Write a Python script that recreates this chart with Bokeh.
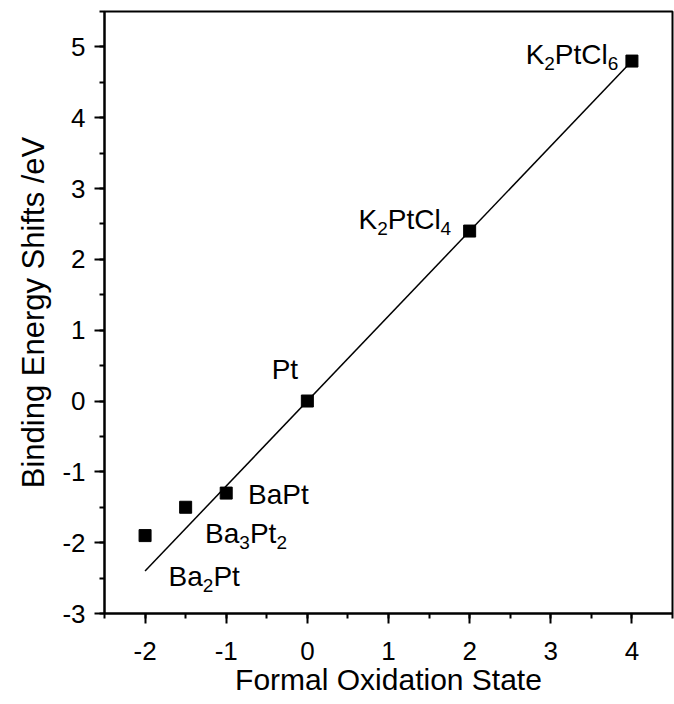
from bokeh.plotting import figure
from bokeh.models import (ColumnDataSource, SingleIntervalTicker, Range1d,
                          CustomJSTickFormatter)
from bokeh.core.properties import value
from bokeh.embed import file_html
from bokeh.resources import INLINE

# ---- data ----
ox_state = [-2.0, -1.5, -1.0, 0.0, 2.0, 4.0]
be_shift = [-1.9, -1.5, -1.3, 0.0, 2.4, 4.8]

fit_x = [-2.0, 4.0]
fit_y = [-2.4, 4.8]

# compound labels: pieces of (text, is_subscript)
label_pieces = [
    [("K", 0), ("2", 1), ("PtCl", 0), ("6", 1)],
    [("K", 0), ("2", 1), ("PtCl", 0), ("4", 1)],
    [("Pt", 0)],
    [("BaPt", 0)],
    [("Ba", 0), ("3", 1), ("Pt", 0), ("2", 1)],
    [("Ba", 0), ("2", 1), ("Pt", 0)],
]
label_x = [2.69, 0.63, -0.44, -0.73, -1.26, -1.71]
label_y = [4.76, 2.44, 0.32, -1.45, -2.00, -2.60]

x_title = "Formal Oxidation State"
y_title = "Binding Energy Shifts /eV"

# ---- styling ----
FONT = "Liberation Sans"
MAIN_PX = 28
SUB_PX = 19
SUB_DROP = 9
BASE_SHIFT = -9
ADV = {"K": 0.667, "P": 0.667, "t": 0.278, "C": 0.722, "l": 0.222,
       "B": 0.667, "a": 0.556}

def adv(s, px):
    return sum(ADV.get(c, 0.556) for c in s) * px

p = figure(width=674, height=704, output_backend="svg", toolbar_location=None,
           x_range=Range1d(-2.5, 4.5), y_range=Range1d(-3, 5.5),
           min_border_left=104, min_border_right=2, min_border_top=11,
           min_border_bottom=91)
p.background_fill_color = "white"
p.border_fill_color = "white"
p.xgrid.visible = False
p.ygrid.visible = False
p.outline_line_color = "black"
p.outline_line_width = 2

fmt = CustomJSTickFormatter(code="return tick.toFixed(0);")
for ax in (p.xaxis[0], p.yaxis[0]):
    ax.ticker = SingleIntervalTicker(interval=1, num_minor_ticks=2)
    ax.formatter = fmt
    ax.axis_line_color = "black"
    ax.axis_line_width = 2
    ax.major_tick_line_color = "black"
    ax.major_tick_line_width = 2
    ax.minor_tick_line_color = "black"
    ax.minor_tick_line_width = 2
    ax.major_tick_out = 10
    ax.major_tick_in = 0
    ax.minor_tick_out = 5
    ax.minor_tick_in = 0
    ax.major_label_text_font = FONT
    ax.major_label_text_font_size = "26px"
    ax.major_label_text_color = "black"
    ax.axis_label_text_font = FONT
    ax.axis_label_text_font_style = "normal"
    ax.axis_label_text_color = "black"

p.xaxis.axis_label = x_title
p.yaxis.axis_label = y_title
p.xaxis.axis_label_text_font_size = "30px"
p.yaxis.axis_label_text_font_size = "31px"
p.xaxis.major_label_standoff = 18
p.xaxis.axis_label_standoff = 0
p.yaxis.major_label_standoff = 9
p.yaxis.axis_label_standoff = 8

p.line(fit_x, fit_y, line_color="black", line_width=1.5)
p.scatter(ox_state, be_shift, marker="square", size=12,
          fill_color="black", line_color="black")

# label pieces
tx, ty, tt, xo, yo, fs = [], [], [], [], [], []
for pieces, lx, ly in zip(label_pieces, label_x, label_y):
    off = 0.0
    for s, sub in pieces:
        px = SUB_PX if sub else MAIN_PX
        tx.append(lx)
        ty.append(ly)
        tt.append(s)
        xo.append(off)
        yo.append(BASE_SHIFT + (SUB_DROP if sub else 0))
        fs.append(f"{px}px")
        off += adv(s, px)

src = ColumnDataSource(dict(x=tx, y=ty, text=tt, xo=xo, yo=yo, fs=fs))
p.text(x="x", y="y", text="text", x_offset="xo", y_offset="yo",
       text_font_size="fs", text_font=value(FONT), text_color="black",
       text_align="left", text_baseline="alphabetic", source=src)

open("out.html", "w").write(file_html(p, INLINE))
